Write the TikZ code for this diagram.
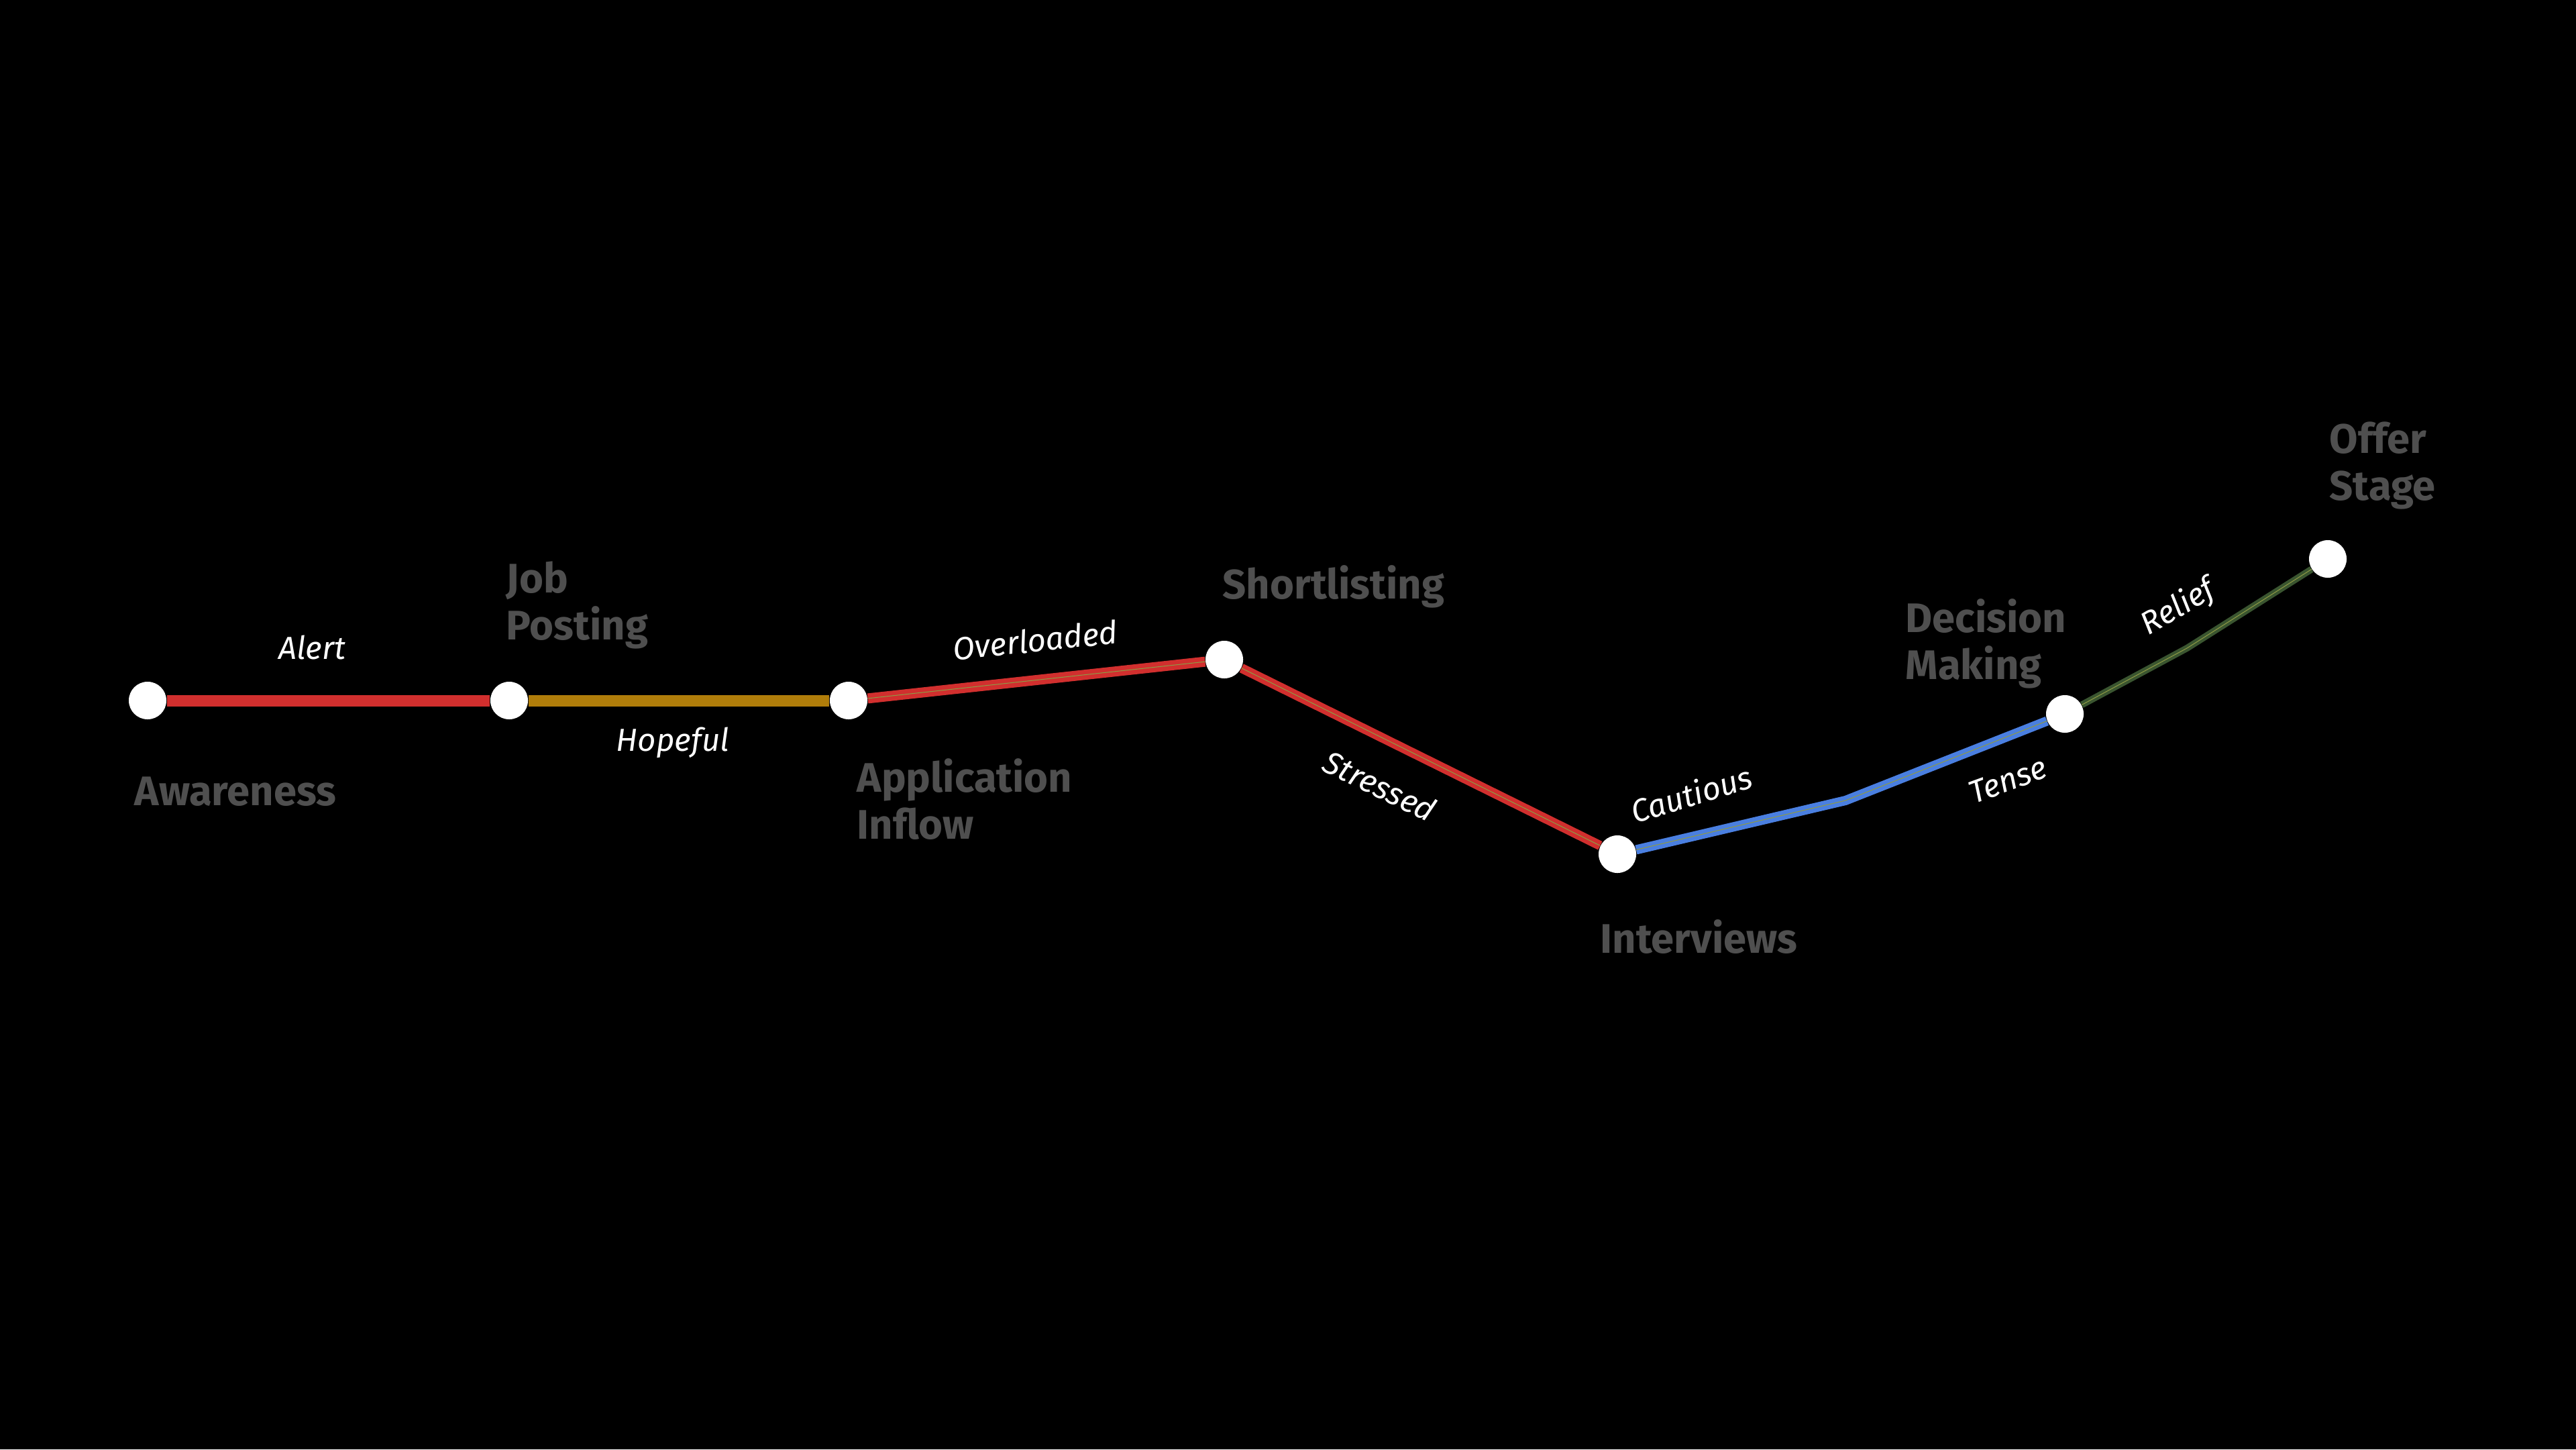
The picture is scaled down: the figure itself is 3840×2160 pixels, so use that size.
\documentclass[tikz,border=0pt]{standalone}
\usepackage{fontspec}
\usepackage{xcolor}
\setmainfont{Fira Sans}
\definecolor{trackred}{HTML}{D12F2E}
\definecolor{trackgold}{HTML}{B07D0A}
\definecolor{trackblue}{HTML}{4A7FE0}
\definecolor{trackgreen}{HTML}{3A5530}
\definecolor{stagegray}{HTML}{4F4F4F}
\definecolor{seam}{HTML}{8E9A45}

\begin{document}
\begin{tikzpicture}[x=0.01cm, y=-0.01cm,
    stop/.style={circle, fill=white, minimum size=0.56cm, inner sep=0pt},
    stage/.style={anchor=base west, align=left, inner sep=0pt, text=stagegray,
      font=\fontsize{17.5}{19.9}\selectfont\bfseries},
    mood/.style={inner sep=0pt, text=white, font=\fontsize{13.5}{16}\selectfont\itshape},
    track/.style={line width=#1},
    thinseam/.style={seam, line width=0.3pt}]
            \fill[black] (0,0) rectangle (3840,2160);

            \node[stop] (aware) at (220,1044) {};
            \node[stop] (post) at (759,1044) {};
            \node[stop] (inflow) at (1265,1044) {};
            \node[stop] (short) at (1825,983) {};
            \node[stop] (inter) at (2411,1273) {};
            \node[stop] (decide) at (3078,1064) {};
            \node[stop] (offer) at (3470,833) {};
            \coordinate (bendA) at (2751,1193);
            \coordinate (bendB) at (3260,966);

            \draw[track=0.17cm, trackred] (aware) -- (post);
            \draw[track=0.17cm, trackgold] (post) -- (inflow);
            \draw[track=0.15cm, trackred] (inflow) -- (short);
            \draw[track=0.14cm, trackred] (short) -- (inter);
            \draw[track=0.14cm, trackblue] (inter) -- (bendA) -- (decide);
            \draw[track=0.1cm, trackgreen] (decide) -- (bendB) -- (offer);
            \draw[thinseam] (inflow) -- (short) -- (inter) -- (bendA) -- (decide) -- (bendB) -- (offer);

            \node[stage] (lblaware) at (200,1200) {Awareness};
            \node[stage] (lblpost) at (754,953) {Job\\Posting};
            \node[stage] (lblinflow) at (1277,1250) {Application\\Inflow};
            \node[stage] (lblshort) at (1822,892) {Shortlisting};
            \node[stage] (lblinter) at (2385,1420) {Interviews};
            \node[stage] (lbldecide) at (2840,1012) {Decision\\Making};
            \node[stage] (lbloffer) at (3472,745) {Offer\\Stage};

            \node[mood] (alert) at (465,965) {Alert};
            \node[mood] (hopeful) at (1003,1107) {Hopeful};
            \node[mood, rotate=6] (overloaded) at (1543,954) {Overloaded};
            \node[mood, rotate=-26] (stressed) at (2057,1171) {Stressed};
            \node[mood, rotate=17] (cautious) at (2521,1183) {Cautious};
            \node[mood, rotate=20] (tense) at (2993,1163) {Tense};
            \node[mood, rotate=30] (relief) at (3247,906) {Relief};
        \end{tikzpicture}
\end{document}
